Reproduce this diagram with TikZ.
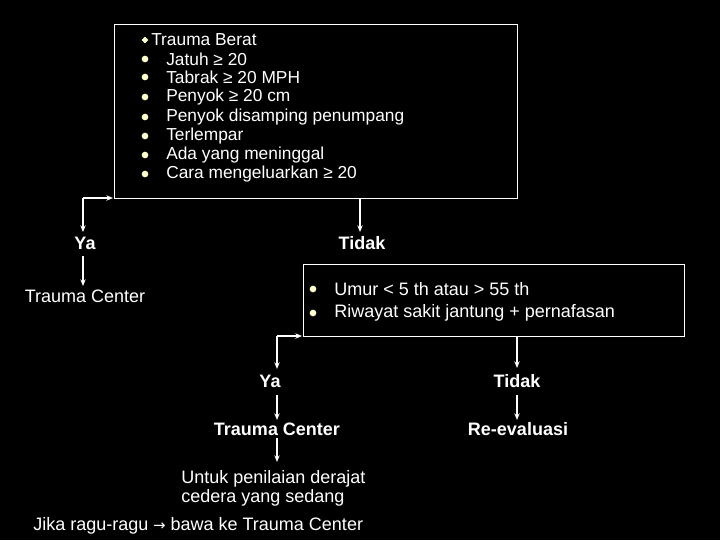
\documentclass[tikz,border=0pt]{standalone}
\usepackage{fontspec}
\setmainfont{Liberation Sans}
\newfontfamily\symfont{DejaVu Sans}
\usetikzlibrary{arrows.meta}
\definecolor{bul}{HTML}{FFFFD0}
\begin{document}
\begin{tikzpicture}[x=0.75pt,y=-0.75pt,
  txt/.style={text=white,font=\fontsize{13}{15}\selectfont,inner sep=0pt},
  txtb/.style={text=white,font=\fontsize{13.5}{14}\selectfont,inner sep=0pt},
  lbl/.style={text=white,font=\fontsize{13.5}{14}\selectfont\bfseries,inner sep=0pt},
  bx/.style={draw=white,line width=0.8pt},
  arr/.style={draw=white,line width=0.9pt,-{Stealth[length=5pt,width=4pt]}},
  dot/.style={circle,fill=bul,inner sep=0pt,minimum size=5pt}]
\fill[black] (0,0) rectangle (720,540);
\useasboundingbox (0,0) rectangle (720,540);
% top box
\node[bx,minimum width=403*0.75pt,minimum height=174*0.75pt,anchor=north west] (b1) at (114,24) {};
\node[rectangle,fill=bul,inner sep=0pt,minimum size=3.5pt,rotate=45] (d0) at (145,40) {};
\node[txt,anchor=west] (t0) at (151,40) {Trauma Berat};
\foreach \y/\t [count=\i] in {59/{Jatuh ≥ 20},77/{Tabrak ≥ 20 MPH},97/{Penyok ≥ 20 cm},117/{Penyok disamping penumpang},136/{Terlempar},155/{Ada yang meninggal},174/{Cara mengeluarkan ≥ 20}}{
  \node[dot] (d\i) at (145,\y) {};
  \node[txt,anchor=west] (t\i) at (166,\y) {\t};
}
\coordinate (c1) at (83,198);
\coordinate (c1e) at (113,198);
\coordinate (c2) at (360,198);
\node[lbl] (ya1) at (85,243) {Ya};
\node[lbl] (ti1) at (362,243) {Tidak};
\node[txtb] (tc1) at (85,296) {Trauma Center};
\draw[arr] (c1) -- (c1e);
\draw[arr] (c1) -- (83,232);
\draw[arr] (c2) -- (360,232);
\draw[arr] (83,256) -- (83,286);
% second box
\node[bx,minimum width=381*0.75pt,minimum height=72*0.75pt,anchor=north west] (b2) at (303,264) {};
\node[dot] (e1) at (313,289) {};
\node[txtb,anchor=west] (u1) at (334,289) {Umur < 5 th atau > 55 th};
\node[dot] (e2) at (313,313) {};
\node[txtb,anchor=west] (u2) at (334,313) {Riwayat sakit jantung + pernafasan};
\coordinate (c3) at (277,336);
\coordinate (c3e) at (302,336);
\coordinate (c4) at (517,336);
\node[lbl] (ya2) at (270,381) {Ya};
\node[lbl] (ti2) at (517,381) {Tidak};
\node[lbl] (tc2) at (277,429) {Trauma Center};
\node[lbl] (re) at (518,429) {Re-evaluasi};
\draw[arr] (c3) -- (277,369);
\draw[arr] (c3) -- (c3e);
\draw[arr] (c4) -- (517,368);
\draw[arr] (277,395) -- (277,420);
\draw[arr] (517,395) -- (517,420);
\node[txtb,align=left,anchor=west] (un) at (181,479) {Untuk penilaian derajat};
\node[txtb,align=left,anchor=west] (un2) at (181,498) {cedera yang sedang};
\draw[arr] (277,438) -- (277,462);
\node[txtb,anchor=west] (jk) at (33,526) {Jika ragu-ragu {\symfont\fontsize{11}{12}\selectfont →} bawa ke Trauma Center};
\end{tikzpicture}
\end{document}
